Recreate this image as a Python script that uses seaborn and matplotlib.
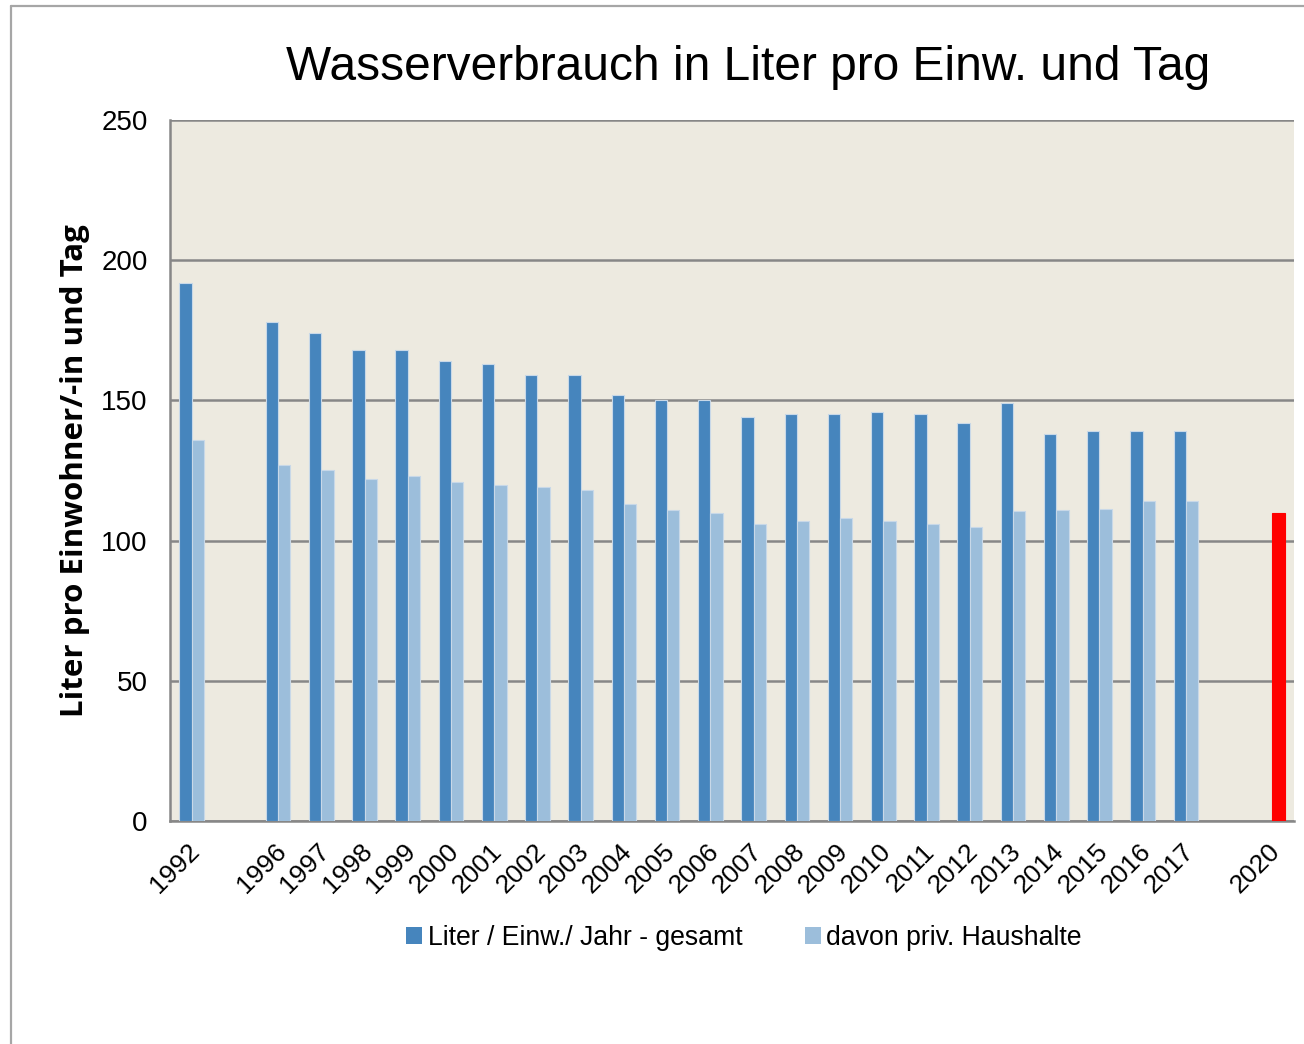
import numpy as np
import pandas as pd
import seaborn as sns
import matplotlib.pyplot as plt
from matplotlib.lines import Line2D
from matplotlib.patches import Patch
from matplotlib.transforms import ScaledTranslation

############# Data ######################################
########################################################
# empty slots (" ", "  ") keep the gaps 1993-1995 and 2018-2019
years = ['1992', ' ', '1996', '1997', '1998', '1999', '2000', '2001', '2002',
         '2003', '2004', '2005', '2006', '2007', '2008', '2009', '2010', '2011',
         '2012', '2013', '2014', '2015', '2016', '2017', '  ', '2020']
gesamt = [192, np.nan, 178, 174, 168, 168, 164, 163, 159, 159, 152, 150, 150,
          144, 145, 145, 146, 145, 142, 149, 138, 139, 139, 139, np.nan, np.nan]
privat = [136, np.nan, 127, 125, 122, 123, 121, 120, 119, 118, 113, 111, 110,
          106, 107, 108, 107, 106, 105, 110.7, 111, 111.4, 114.3, 114, np.nan, 110]

label_gesamt = 'Liter / Einw./ Jahr - gesamt'
label_privat = 'davon priv. Haushalte'

df = pd.DataFrame({'Jahr': years, label_gesamt: gesamt, label_privat: privat})
df_long = df.melt(id_vars='Jahr', var_name='Reihe', value_name='Liter').dropna()

############# Style ####################################
########################################################
sns.set_style('white')
plt.rcParams['font.family'] = ['Liberation Sans', 'DejaVu Sans']
plt.rcParams['text.color'] = 'black'
plt.rcParams['xtick.color'] = 'black'
plt.rcParams['ytick.color'] = 'black'
plt.rcParams['axes.labelcolor'] = 'black'

dark_blue = '#4685BD'
light_blue = '#9CBEDB'
grid_grey = '#878787'

fig = plt.figure(figsize=(13.04, 10.44), dpi=100)
ax = fig.add_axes([170 / 1304, 1 - 821 / 1044, 1124 / 1304, 701 / 1044])
ax.set_facecolor('#EDEAE0')

sns.barplot(data=df_long, x='Jahr', y='Liter', hue='Reihe', order=years,
            hue_order=[label_gesamt, label_privat],
            palette=[dark_blue, light_blue], saturation=1, width=0.57, gap=0,
            edgecolor='#C8D8E8', linewidth=0.8, ax=ax, legend=False, zorder=3)

# the 2020 target value is drawn in red
target = ax.containers[1][-1]
target.set_facecolor('#FF0000')
target.set_edgecolor('#FF0000')

############# Axes #####################################
########################################################
ax.set_ylim(0, 250)
ax.set_xlim(-0.5, len(years) - 0.5)
ax.set_yticks([0, 50, 100, 150, 200, 250])
ax.yaxis.grid(True, color=grid_grey, linewidth=1.8, zorder=0)
ax.set_axisbelow(True)

ax.set_xticks(range(len(years)))
ax.set_xticklabels([y.strip() for y in years], rotation=45, ha='right',
                   rotation_mode='anchor', fontsize=19)
ax.tick_params(axis='x', length=0, pad=13)
# nudge the rotated labels so their ends sit under the bar pairs
shift = ScaledTranslation(-3 / 72, 0, fig.dpi_scale_trans)
for lbl in ax.get_xticklabels():
    lbl.set_transform(lbl.get_transform() + shift)
ax.set_xticks(np.arange(-0.5, len(years), 1), minor=True)
ax.tick_params(axis='x', which='minor', length=8, width=1.8, color=grid_grey)
ax.tick_params(axis='y', labelsize=20, length=8, width=1.8, color=grid_grey, pad=8)

for side in ['top', 'right']:
    ax.spines[side].set_visible(False)
for side in ['left', 'bottom']:
    ax.spines[side].set_color(grid_grey)
    ax.spines[side].set_linewidth(1.8)

ax.set_xlabel('')
ax.set_ylabel('Liter pro Einwohner/-in und Tag', fontsize=22.5, fontweight='bold',
              family=['Open Sans', 'DejaVu Sans'], labelpad=8)

fig.text(748 / 1304, 1 - 68 / 1044, 'Wasserverbrauch in Liter pro Einw. und Tag',
         ha='center', va='center', fontsize=34.5)

handles = [Patch(facecolor=dark_blue, edgecolor='none'),
           Patch(facecolor=light_blue, edgecolor='none')]
fig.legend(handles, [label_gesamt, label_privat], loc='center',
           bbox_to_anchor=(744 / 1304, 1 - 938 / 1044), ncol=2, frameon=False,
           fontsize=19.2, handlelength=0.6, handleheight=0.6, handletextpad=0.2,
           columnspacing=2.35)

# chart frame (top and left edges visible)
fig.add_artist(Line2D([11 / 1304, 11 / 1304], [0, 1 - 6 / 1044],
                      transform=fig.transFigure, color='#A6A6A6', linewidth=1.6))
fig.add_artist(Line2D([11 / 1304, 1], [1 - 6 / 1044, 1 - 6 / 1044],
                      transform=fig.transFigure, color='#A6A6A6', linewidth=1.6))

plt.savefig('out.png', dpi=100)
